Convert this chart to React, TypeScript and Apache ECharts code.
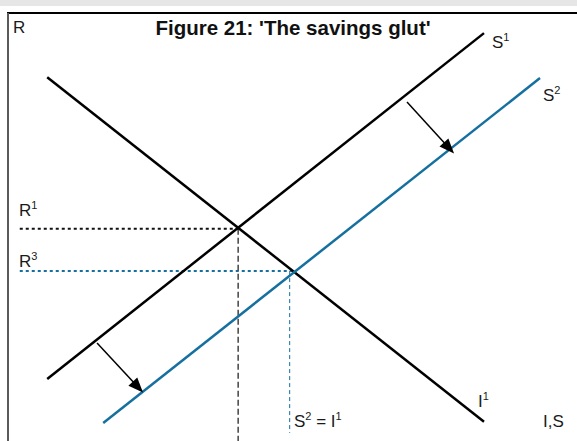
import React, { useEffect, useRef } from "react";
import * as echarts from "echarts";

// Curves (x = quantity I,S ; y = rate R), abstract units 0..100
const investmentI1: number[][] = [[7, 85], [85, 4.5]];
const savingsS1: number[][] = [[7, 14.5], [85, 95.3]];
const savingsS2: number[][] = [[17, 4.2], [95, 84.8]];

// Equilibria / guides
const rateR1 = 49.6;
const rateR3 = 39.7;
const eq1X = 41.1;
const eq2X = 51.1;
const eq2GuideX = 50.3;
const guideStartX = 2.1;
const guideEndY = 1.9;

// Shift arrows [from, to]
const shiftArrows: number[][][] = [
  [[15.9, 22.9], [23.2, 12.6]],
  [[71.25, 79.2], [78.75, 68.46]],
];

const BLUE = "#15709f";
const FONT = "Liberation Sans, Arial, sans-serif";

export default function App() {
  const ref = useRef<HTMLDivElement>(null);
  useEffect(() => {
    if (!ref.current) return;
    const chart = echarts.init(ref.current, undefined, { renderer: "svg" });
    const lbl = (x: number, y: number, text: string) => ({
      type: "text",
      x,
      y,
      style: {
        text,
        fontFamily: FONT,
        fontSize: 17,
        fill: "#1a1a1a",
        verticalAlign: "top",
        rich: {
          b: { fontSize: 17, fontFamily: FONT, lineHeight: 20, verticalAlign: "bottom", fill: "#1a1a1a" },
          s: { fontSize: 11, fontFamily: FONT, lineHeight: 11, verticalAlign: "top", fill: "#1a1a1a" },
        },
      },
      z: 10,
    });
    const simpleLine = (data: number[][], color: string, width: number, type: any, z = 2) => ({
      type: "line",
      data,
      symbol: "none",
      silent: true,
      lineStyle: { color, width, type },
      z,
    });
    chart.setOption({
      animation: false,
      grid: { left: 8, right: 9, top: 13, bottom: 0 },
      xAxis: { type: "value", min: 0, max: 100, show: false },
      yAxis: { type: "value", min: 0, max: 100, show: false },
      series: [
        simpleLine([[guideStartX, rateR1], [eq1X, rateR1]], "#111", 2, [3, 3], 1),
        simpleLine([[guideStartX, rateR3], [eq2X, rateR3]], BLUE, 2, [3, 3], 1),
        simpleLine([[eq1X, rateR1], [eq1X, 0]], "#444", 1.5, [6, 3], 1),
        simpleLine([[eq2GuideX, rateR3], [eq2GuideX, guideEndY]], BLUE, 1, [4, 3], 1),
        simpleLine(investmentI1, "#000", 2.5, "solid", 3),
        simpleLine(savingsS1, "#000", 2.5, "solid", 3),
        simpleLine(savingsS2, BLUE, 2.5, "solid", 3),
        {
          type: "line",
          data: [],
          silent: true,
          markLine: {
            silent: true,
            symbol: ["none", "triangle"],
            symbolSize: [12, 15],
            label: { show: false },
            lineStyle: { color: "#000", width: 1.5, type: "solid" },
            data: shiftArrows.map((a) => [{ coord: a[0] }, { coord: a[1] }]),
          },
          z: 4,
        },
      ],
      graphic: [
        { type: "rect", shape: { x: 0, y: 0, width: 577, height: 6 }, style: { fill: "#e6e6e6" } },
        { type: "line", shape: { x1: 7, y1: 13, x2: 577, y2: 13 }, style: { stroke: "#000", lineWidth: 2 } },
        { type: "line", shape: { x1: 8, y1: 13, x2: 8, y2: 441 }, style: { stroke: "#5a5a5a", lineWidth: 2 } },
        {
          type: "text",
          x: 293,
          y: 17,
          style: {
            text: "Figure 21: 'The savings glut'",
            fontFamily: FONT,
            fontWeight: "bold",
            fontSize: 20.5,
            fill: "#111",
            align: "center",
            verticalAlign: "top",
          },
        },
        lbl(13, 16, "{b|R}"),
        lbl(492, 31, "{b|S}{s|1}"),
        lbl(543, 84, "{b|S}{s|2}"),
        lbl(19, 199, "{b|R}{s|1}"),
        lbl(19, 250, "{b|R}{s|3}"),
        lbl(478, 390, "{b|I}{s|1}"),
        lbl(294, 410, "{b|S}{s|2}{b| = I}{s|1}"),
        lbl(543, 410, "{b|I,S}"),
      ],
    });
    return () => chart.dispose();
  }, []);
  return (
    <div
      ref={ref}
      style={{ position: "absolute", left: 0, top: 0, width: 577, height: 441, background: "#fff" }}
    />
  );
}
